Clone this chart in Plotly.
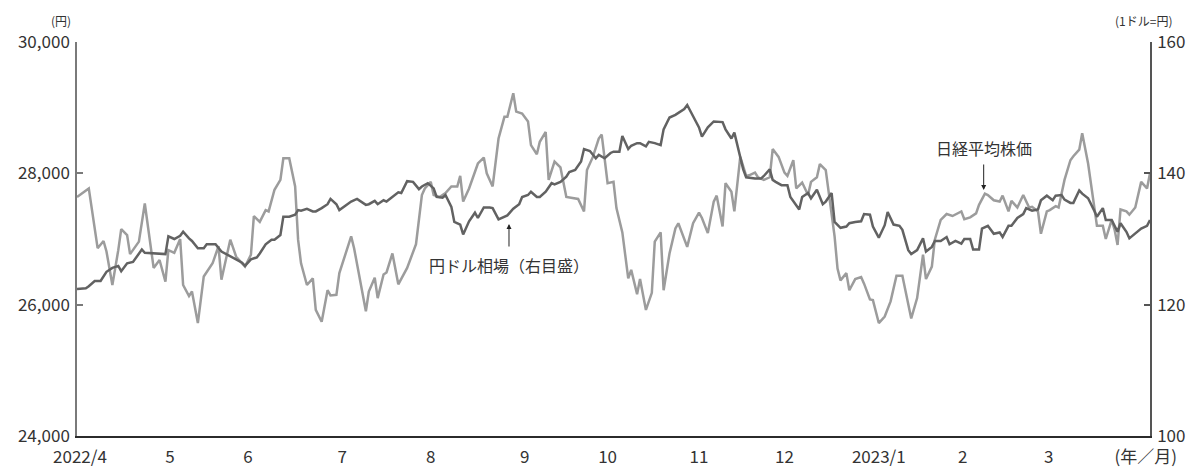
import plotly.graph_objects as go

# ---------------- data ----------------
nikkei_dates = [
    "2022-04-01","2022-04-05","2022-04-08","2022-04-10","2022-04-11","2022-04-13","2022-04-15","2022-04-16","2022-04-18","2022-04-19",
    "2022-04-22","2022-04-24","2022-04-27","2022-04-29","2022-05-01","2022-05-02","2022-05-04","2022-05-06","2022-05-07","2022-05-09",
    "2022-05-10","2022-05-12","2022-05-14","2022-05-17","2022-05-19","2022-05-20","2022-05-23","2022-05-25","2022-05-28","2022-05-30",
    "2022-05-31","2022-06-02","2022-06-04","2022-06-05","2022-06-07","2022-06-09","2022-06-10","2022-06-12","2022-06-14","2022-06-15",
    "2022-06-16","2022-06-18","2022-06-20","2022-06-21","2022-06-23","2022-06-25","2022-06-26","2022-06-28","2022-06-29","2022-07-03",
    "2022-07-04","2022-07-06","2022-07-08","2022-07-09","2022-07-11","2022-07-12","2022-07-14","2022-07-15","2022-07-17","2022-07-19",
    "2022-07-22","2022-07-25","2022-07-27","2022-07-28","2022-07-30","2022-07-31","2022-08-02","2022-08-04","2022-08-06","2022-08-08",
    "2022-08-09","2022-08-10","2022-08-12","2022-08-15","2022-08-17","2022-08-18","2022-08-20","2022-08-22","2022-08-24","2022-08-25",
    "2022-08-27","2022-08-28","2022-08-30","2022-09-01","2022-09-02","2022-09-04","2022-09-05","2022-09-07","2022-09-08","2022-09-10",
    "2022-09-12","2022-09-14","2022-09-16","2022-09-18","2022-09-20","2022-09-21","2022-09-23","2022-09-25","2022-09-26","2022-09-28",
    "2022-09-30","2022-10-01","2022-10-03","2022-10-05","2022-10-06","2022-10-08","2022-10-09","2022-10-11","2022-10-13","2022-10-14",
    "2022-10-16","2022-10-17","2022-10-19","2022-10-21","2022-10-22","2022-10-24","2022-10-25","2022-10-27","2022-10-29","2022-10-30",
    "2022-11-01","2022-11-03","2022-11-04","2022-11-06","2022-11-07","2022-11-09","2022-11-10","2022-11-12","2022-11-14","2022-11-15",
    "2022-11-17","2022-11-18","2022-11-20","2022-11-22","2022-11-23","2022-11-25","2022-11-27","2022-11-28","2022-11-30","2022-12-01",
    "2022-12-03","2022-12-05","2022-12-06","2022-12-08","2022-12-09","2022-12-11","2022-12-12","2022-12-14","2022-12-15","2022-12-16",
    "2022-12-18","2022-12-19","2022-12-21","2022-12-23","2022-12-24","2022-12-26","2022-12-27","2022-12-29","2022-12-31","2023-01-02",
    "2023-01-04","2023-01-06","2023-01-09","2023-01-11","2023-01-13","2023-01-14","2023-01-16","2023-01-17","2023-01-19","2023-01-21",
    "2023-01-23","2023-01-24","2023-01-26","2023-01-27","2023-01-29","2023-01-31","2023-02-01","2023-02-03","2023-02-04","2023-02-06",
    "2023-02-08","2023-02-09","2023-02-11","2023-02-12","2023-02-14","2023-02-16","2023-02-18","2023-02-19","2023-02-21","2023-02-22",
    "2023-02-24","2023-02-25","2023-02-27","2023-02-28","2023-03-02","2023-03-04","2023-03-05","2023-03-07","2023-03-08","2023-03-10",
    "2023-03-11","2023-03-13","2023-03-15","2023-03-16","2023-03-18","2023-03-19","2023-03-20","2023-03-21","2023-03-23","2023-03-24",
    "2023-03-26","2023-03-28","2023-03-30","2023-03-31",
]
nikkei_values = [
    27640,27770,26860,26970,26810,26300,26830,27150,27060,26770,
    26960,27540,26560,26680,26350,26830,26790,27000,26300,26130,
    26200,25720,26430,26630,26890,26380,26990,26730,26580,26760,
    27350,27260,27440,27420,27750,27900,28230,28230,27800,26990,
    26630,26300,26400,25920,25740,26220,26140,26150,26480,27040,
    26860,26400,25900,26200,26410,26100,26460,26490,26780,26310,
    26560,26920,27670,27770,27870,27670,27640,27700,27800,27800,
    27960,27570,27770,28150,28240,28000,27800,28530,28860,28860,
    29220,28940,28910,28790,28430,28290,28480,28630,27900,28180,
    28090,27640,27620,27610,27420,28050,28250,28530,28590,27850,
    27870,27470,27100,26400,26530,26160,26390,25920,26180,26960,
    27100,26220,26780,27160,27240,26990,26880,27240,27400,27320,
    27090,27570,27660,27190,27850,27720,27420,28250,27960,27970,
    28010,27940,27900,27940,28370,28250,28010,27960,28200,27770,
    27860,27670,27870,27940,28140,28050,27720,27040,26550,26370,
    26480,26220,26390,26420,26320,26080,26070,25720,25820,26050,
    26440,26440,25790,26100,26760,26390,26580,26990,27290,27380,
    27350,27370,27420,27300,27330,27390,27520,27690,27670,27590,
    27570,27660,27420,27580,27480,27670,27480,27490,27420,27080,
    27420,27440,27500,27480,27900,28200,28260,28360,28610,28150,
    27850,27200,27200,27000,27290,27140,26910,27450,27420,27370,
    27480,27870,27770,28000,
]

usdjpy_dates = [
    "2022-04-01","2022-04-04","2022-04-05","2022-04-07","2022-04-09","2022-04-10","2022-04-11","2022-04-13","2022-04-15","2022-04-16",
    "2022-04-18","2022-04-20","2022-04-22","2022-04-23","2022-04-24","2022-04-27","2022-04-29","2022-05-01","2022-05-02","2022-05-04",
    "2022-05-06","2022-05-07","2022-05-09","2022-05-10","2022-05-12","2022-05-14","2022-05-15","2022-05-18","2022-05-20","2022-05-23",
    "2022-05-25","2022-05-27","2022-05-28","2022-05-30","2022-06-01","2022-06-02","2022-06-04","2022-06-06","2022-06-07","2022-06-09",
    "2022-06-10","2022-06-12","2022-06-14","2022-06-15","2022-06-16","2022-06-18","2022-06-20","2022-06-21","2022-06-23","2022-06-25",
    "2022-06-26","2022-06-28","2022-06-29","2022-07-01","2022-07-03","2022-07-05","2022-07-08","2022-07-09","2022-07-11","2022-07-12",
    "2022-07-14","2022-07-15","2022-07-17","2022-07-19","2022-07-20","2022-07-22","2022-07-24","2022-07-26","2022-07-27","2022-07-29",
    "2022-07-31","2022-08-01","2022-08-03","2022-08-04","2022-08-06","2022-08-07","2022-08-09","2022-08-10","2022-08-12","2022-08-14",
    "2022-08-15","2022-08-17","2022-08-19","2022-08-20","2022-08-22","2022-08-23","2022-08-25","2022-08-27","2022-08-29","2022-08-30",
    "2022-09-01","2022-09-02","2022-09-04","2022-09-05","2022-09-07","2022-09-09","2022-09-10","2022-09-12","2022-09-14","2022-09-15",
    "2022-09-17","2022-09-19","2022-09-20","2022-09-22","2022-09-24","2022-09-25","2022-09-27","2022-09-29","2022-09-30","2022-10-02",
    "2022-10-03","2022-10-05","2022-10-06","2022-10-08","2022-10-09","2022-10-11","2022-10-12","2022-10-14","2022-10-16","2022-10-17",
    "2022-10-19","2022-10-21","2022-10-22","2022-10-24","2022-10-25","2022-10-27","2022-10-29","2022-10-30","2022-11-01","2022-11-03",
    "2022-11-04","2022-11-06","2022-11-07","2022-11-09","2022-11-10","2022-11-12","2022-11-13","2022-11-14","2022-11-16","2022-11-17",
    "2022-11-19","2022-11-20","2022-11-22","2022-11-23","2022-11-24","2022-11-26","2022-11-28","2022-11-29","2022-12-02","2022-12-03",
    "2022-12-05","2022-12-06","2022-12-08","2022-12-10","2022-12-11","2022-12-13","2022-12-14","2022-12-16","2022-12-18","2022-12-19",
    "2022-12-21","2022-12-23","2022-12-24","2022-12-26","2022-12-27","2022-12-29","2022-12-31","2023-01-01","2023-01-03","2023-01-05",
    "2023-01-06","2023-01-08","2023-01-09","2023-01-11","2023-01-13","2023-01-14","2023-01-16","2023-01-17","2023-01-19","2023-01-21",
    "2023-01-22","2023-01-24","2023-01-26","2023-01-27","2023-01-29","2023-01-30","2023-02-01","2023-02-02","2023-02-04","2023-02-06",
    "2023-02-08","2023-02-09","2023-02-11","2023-02-12","2023-02-14","2023-02-16","2023-02-17","2023-02-19","2023-02-21","2023-02-22",
    "2023-02-24","2023-02-26","2023-02-27","2023-03-01","2023-03-02","2023-03-04","2023-03-05","2023-03-07","2023-03-08","2023-03-10",
    "2023-03-12","2023-03-13","2023-03-15","2023-03-16","2023-03-18","2023-03-20","2023-03-21","2023-03-23","2023-03-24","2023-03-26",
    "2023-03-28","2023-03-30","2023-03-31",
]
usdjpy_values = [
    122.4,122.5,122.8,123.6,123.6,124.3,125.0,125.6,125.9,125.1,
    126.3,126.5,127.8,128.4,127.9,127.8,127.7,127.7,130.4,130.0,
    130.5,131.1,130.1,129.7,128.6,128.6,129.2,129.2,128.1,127.4,
    126.9,126.4,125.9,126.9,127.2,127.8,129.2,129.9,129.9,130.6,
    133.4,133.4,133.7,134.4,134.3,134.6,134.2,134.2,134.7,135.3,
    136.1,135.3,134.4,135.0,135.7,136.1,135.2,135.3,135.8,135.3,
    135.9,135.7,136.4,137.1,137.0,138.8,138.7,137.6,138.0,138.5,
    137.7,136.4,136.3,136.7,134.9,132.6,132.2,130.7,132.7,134.0,
    133.2,134.8,134.8,134.7,133.0,133.2,133.6,134.6,135.3,136.4,
    136.7,137.2,136.4,136.4,137.2,138.5,138.3,138.7,139.5,140.2,
    140.5,141.8,143.7,143.4,142.3,142.8,142.3,143.1,143.3,143.3,
    145.7,143.7,144.2,144.6,144.6,144.1,144.8,144.6,144.3,146.7,
    148.5,148.9,149.2,149.8,150.4,148.7,147.0,145.6,147.0,147.9,
    147.9,147.8,146.7,145.3,146.2,142.6,140.6,139.4,139.2,139.2,
    139.2,139.6,140.6,139.0,138.7,138.2,138.2,136.4,134.5,136.4,
    137.0,136.2,137.5,135.3,135.7,137.0,132.6,131.7,131.9,132.4,
    132.6,132.7,133.8,133.7,131.9,130.2,132.1,134.1,132.2,132.0,
    131.4,128.3,127.7,128.3,130.1,128.1,128.8,129.7,129.7,130.3,
    129.2,129.7,129.3,130.0,130.0,128.4,128.4,131.6,132.0,130.8,
    131.0,130.3,132.0,132.0,133.2,133.8,134.7,134.3,134.5,135.9,
    136.6,135.9,136.6,136.7,136.0,135.5,135.5,137.4,136.9,136.2,
    134.4,133.4,134.7,132.9,132.9,131.1,132.4,131.1,130.1,130.8,
    131.6,132.0,132.9,
]

x_tick_vals = ["2022-04-02", "2022-05-02 12:00", "2022-05-29", "2022-06-30", "2022-07-30",
               "2022-08-30 22:00", "2022-09-28", "2022-10-29", "2022-11-27", "2022-12-29",
               "2023-01-26 12:00", "2023-02-24 16:00", "2023-03-29 14:00"]
x_tick_text = ["2022/4", "5", "6", "7", "8", "9", "10", "11", "12", "2023/1", "2", "3", "(年／月)"]

left_ticks = [24000, 26000, 28000, 30000]
left_tick_text = ["24,000", "26,000", "28,000", "30,000"]
right_ticks = [100, 120, 140, 160]

FONT = "Noto Sans CJK JP"
TXT = "#333333"

fig = go.Figure()
fig.add_trace(go.Scatter(x=nikkei_dates, y=nikkei_values, mode="lines", name="日経平均株価",
                         line=dict(color="#9c9c9c", width=2.5), yaxis="y"))
fig.add_trace(go.Scatter(x=usdjpy_dates, y=usdjpy_values, mode="lines", name="円ドル相場（右目盛）",
                         line=dict(color="#626262", width=2.5), yaxis="y2"))

fig.update_layout(
    width=1195, height=468,
    margin=dict(l=77, r=45, t=42, b=32, autoexpand=False),
    paper_bgcolor="white", plot_bgcolor="white",
    showlegend=False,
    font=dict(family=FONT, color=TXT, size=17),
    xaxis=dict(
        type="date", range=["2022-04-01", "2023-03-31"], automargin=False,
        tickmode="array", tickvals=x_tick_vals, ticktext=x_tick_text,
        ticks="", showgrid=False, zeroline=False,
        showline=True, linecolor="#2b2b2b", linewidth=1.5,
        ticklabelstandoff=5,
        tickfont=dict(size=17, color=TXT, family=FONT),
    ),
    yaxis=dict(
        range=[24000, 30000], tickmode="array", tickvals=left_ticks, ticktext=left_tick_text,
        automargin=False,
        ticks="inside", ticklen=6, tickcolor="#7a7a7a", tickwidth=1.5,
        showgrid=False, zeroline=False,
        showline=True, linecolor="#7a7a7a", linewidth=1.5,
        ticklabelstandoff=2,
        tickfont=dict(size=17, color=TXT, family=FONT),
    ),
    yaxis2=dict(
        range=[100, 160], tickmode="array", tickvals=right_ticks,
        overlaying="y", side="right", automargin=False,
        ticks="inside", ticklen=6, tickcolor="#555555", tickwidth=1.5,
        showgrid=False, zeroline=False,
        showline=True, linecolor="#555555", linewidth=1.5,
        ticklabelstandoff=2,
        tickfont=dict(size=17, color=TXT, family=FONT),
    ),
)

annotations = [
    dict(xref="paper", yref="paper", x=-0.0149, y=1.055, text="(円)", showarrow=False,
         font=dict(size=12, color=TXT, family=FONT), xanchor="center", yanchor="middle"),
    dict(xref="paper", yref="paper", x=0.9935, y=1.055, text="(1ドル=円)", showarrow=False,
         font=dict(size=12, color=TXT, family=FONT), xanchor="center", yanchor="middle"),
    dict(xref="paper", yref="paper", x=0.4026, y=0.434, text="円ドル相場（右目盛）", showarrow=False,
         font=dict(size=16, color=TXT, family=FONT), xanchor="center", yanchor="middle"),
    dict(xref="paper", yref="paper", x=0.4026, y=0.538, text="", showarrow=True,
         ax=0, ay=24, arrowhead=2, arrowsize=1, arrowwidth=1, arrowcolor="#222222"),
    dict(xref="paper", yref="paper", x=0.845, y=0.730, text="日経平均株価", showarrow=False,
         font=dict(size=16, color=TXT, family=FONT), xanchor="center", yanchor="middle"),
    dict(xref="paper", yref="paper", x=0.845, y=0.6244, text="", showarrow=True,
         ax=0, ay=-27, arrowhead=2, arrowsize=1, arrowwidth=1, arrowcolor="#222222"),
]
fig.update_layout(annotations=annotations)

fig.write_html(
    "out.html",
    config={"displayModeBar": False},
    post_script="document.body.style.margin='0px';document.body.style.padding='0px';document.body.style.overflow='hidden';",
)
